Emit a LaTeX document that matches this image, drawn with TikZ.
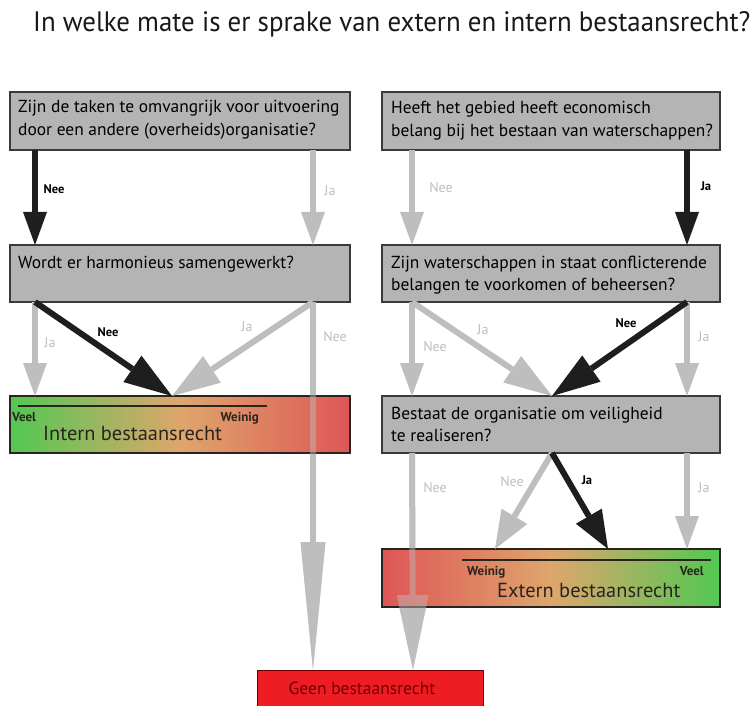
\documentclass[tikz,border=0pt]{standalone}
\usepackage{fontspec}
\setmainfont{PT Sans}
\usetikzlibrary{arrows.meta}
\definecolor{boxgray}{HTML}{B4B4B4}
\definecolor{boxline}{HTML}{3A3A3A}
\definecolor{arrgray}{HTML}{BEBEBE}
\definecolor{arrblack}{HTML}{1E1E1E}
\definecolor{lblgray}{HTML}{BDBDBD}
\definecolor{gGreen}{HTML}{52C852}
\definecolor{gOrange}{HTML}{DEA66C}
\definecolor{gRed}{HTML}{DE5656}
\definecolor{geenred}{HTML}{EE1D23}
\definecolor{geentext}{HTML}{6E0000}
\definecolor{bartext}{HTML}{2A2420}
\tikzset{
  qbox/.style={draw=boxline, line width=1.3pt, fill=boxgray, anchor=north west,
    minimum width=340pt, minimum height=58pt, inner sep=0pt, outer sep=0pt},
  gbox/.style={draw=bartext, line width=1.3pt, anchor=north west,
    minimum width=340pt, minimum height=57pt, inner sep=0pt, outer sep=0pt},
  qtext/.style={anchor=base west, inner sep=0pt,
    font=\fontsize{17.4}{22}\selectfont, text=black},
  vhead/.style={-{Triangle[length=33pt,width=24pt,line width=0pt]}},
  dhead/.style={-{Triangle[length=48pt,width=32pt,line width=0pt]}},
  lhead/.style={-{Triangle[length=38pt,width=30pt,line width=0pt]}},
  garr/.style={draw=arrgray, line width=6pt, color=arrgray},
  barr/.style={draw=arrblack, line width=6pt, color=arrblack},
  lblk/.style={font=\bfseries\fontsize{12.5}{14}\selectfont, text=black, inner sep=0pt},
  lgry/.style={font=\fontsize{14}{16}\selectfont, text=lblgray, inner sep=0pt},
  scl/.style={font=\bfseries\fontsize{13}{14}\selectfont, text=bartext, inner sep=0pt, anchor=base west},
  bigt/.style={font=\fontsize{20.4}{22}\selectfont, text=bartext, inner sep=0pt, anchor=base west},
}
\begin{document}
\begin{tikzpicture}[x=1pt,y=-1pt]
\useasboundingbox (0,0) rectangle (753,706);

% title
\node[anchor=base west, inner sep=0pt, text=black!90] (title) at (33,32)
  {\resizebox{717pt}{20pt}{In welke mate is er sprake van extern en intern bestaansrecht?}};

% question boxes
\node[qbox] (q1) at (10,92) {};
\node[qtext] (t1a) at (18,113) {Zijn de taken te omvangrijk voor uitvoering};
\node[qtext] (t1b) at (18,136) {door een andere (overheids)organisatie?};
\node[qbox, minimum height=57pt] (q2) at (10,245) {};
\node[qtext] (t2) at (18,268) {Wordt er harmonieus samengewerkt?};
\node[qbox, minimum width=338pt] (q3) at (382,92) {};
\node[qtext] (t3a) at (391,114) {Heeft het gebied heeft economisch};
\node[qtext] (t3b) at (391,137) {belang bij het bestaan van waterschappen?};
\node[qbox, minimum width=338pt, minimum height=57pt] (q4) at (382,245) {};
\node[qtext] (t4a) at (391,268) {Zijn waterschappen in staat conflicterende};
\node[qtext] (t4b) at (391,290) {belangen te voorkomen of beheersen?};
\node[qbox, minimum width=338pt, minimum height=57pt] (q5) at (382,396) {};
\node[qtext] (t5a) at (391,419) {Bestaat de organisatie om veiligheid};
\node[qtext] (t5b) at (391,441) {te realiseren?};

% geen box
\node[draw=geentext, line width=1.3pt, fill=geenred, anchor=north west,
  minimum width=226pt, minimum height=45pt, inner sep=0pt] (geen) at (257,670) {};
\node[font=\fontsize{17.5}{18}\selectfont, text=geentext, inner sep=0pt, anchor=base] (tgeen) at (362,694) {Geen bestaansrecht};

% long gray arrows (opaque pass, under the bars)
\draw[garr, -{Triangle[length=128pt,width=25pt,line width=0pt]}] ([xshift=-37pt]q2.south east) -- ([xshift=56pt]geen.north west);
\draw[garr, -{Triangle[length=75pt,width=32pt,line width=0pt]}] ([xshift=30pt]q5.south west) -- ([xshift=156pt]geen.north west);

% gradient bars
\node[gbox, left color=gGreen, right color=gRed, middle color=gOrange] (intern) at (10,396) {};
\node[gbox, minimum width=338pt, minimum height=58pt, left color=gRed, right color=gGreen, middle color=gOrange] (extern) at (382,549) {};

% long gray arrows (translucent pass, over the bars)
\begin{scope}[transparency group, opacity=0.45]
\draw[garr, -{Triangle[length=128pt,width=25pt,line width=0pt]}] ([xshift=-37pt]q2.south east) -- ([xshift=56pt]geen.north west);
\draw[garr, -{Triangle[length=75pt,width=32pt,line width=0pt]}] ([xshift=30pt]q5.south west) -- ([xshift=156pt]geen.north west);
\end{scope}

% bar contents
\draw[line width=1.4pt, bartext] ([shift={(8pt,-10pt)}]intern.north west) coordinate (il1) -- ([shift={(257pt,-10pt)}]intern.north west) coordinate (il2);
\node[scl] (iv) at (12,421) {Veel};
\node[scl, anchor=base east] (iw) at (259,421) {Weinig};
\node[bigt] (it) at (43,440) {Intern bestaansrecht};

\draw[line width=1.4pt, bartext] ([shift={(80pt,-11pt)}]extern.north west) coordinate (el1) -- ([shift={(329pt,-11pt)}]extern.north west) coordinate (el2);
\node[scl] (ew) at (467,575) {Weinig};
\node[scl, anchor=base east] (ev) at (704,575) {Veel};
\node[bigt] (et) at (497,597) {Extern bestaansrecht};

% gray arrows
\draw[garr, vhead] ([xshift=-37pt]q1.south east) -- ([xshift=-37pt]q2.north east);
\draw[garr, vhead] ([xshift=25pt]q2.south west) -- ([xshift=25pt]intern.north west);
\draw[garr, dhead] ([xshift=-37pt]q2.south east) -- ([xshift=162pt]intern.north west);
\draw[garr, vhead] ([xshift=30pt]q3.south west) -- ([xshift=30pt]q4.north west);
\draw[garr, vhead] ([xshift=30pt]q4.south west) -- ([xshift=30pt]q5.north west);
\draw[garr, dhead] ([xshift=30pt]q4.south west) -- ([xshift=170pt]q5.north west);
\draw[garr, vhead] ([xshift=-33pt]q4.south east) -- ([xshift=-33pt]q5.north east);
\draw[garr, lhead] ([xshift=170pt]q5.south west) -- ([xshift=113pt]extern.north west);
\draw[garr, vhead] ([xshift=-33pt]q5.south east) -- ([xshift=-33pt]extern.north east);

% black arrows
\draw[barr, vhead] ([xshift=25pt]q1.south west) -- ([xshift=25pt]q2.north west);
\draw[barr, dhead] ([xshift=25pt]q2.south west) -- ([xshift=162pt]intern.north west);
\draw[barr, vhead] ([xshift=-33pt]q3.south east) -- ([xshift=-33pt]q4.north east);
\draw[barr, dhead] ([xshift=-33pt]q4.south east) -- ([xshift=170pt]q5.north west);
\draw[barr, lhead] ([xshift=170pt]q5.south west) -- ([xshift=226pt]extern.north west);

% labels
\node[lblk] (l1) at (54,189) {Nee};
\node[lgry] (l2) at (330,191) {Ja};
\node[lgry] (l3) at (441,188) {Nee};
\node[lblk] (l4) at (706,186) {Ja};
\node[lblk] (l5) at (108,332) {Nee};
\node[lgry] (l6) at (50,343) {Ja};
\node[lgry] (l7) at (247,327) {Ja};
\node[lgry] (l8) at (335,337) {Nee};
\node[lgry] (l9) at (483,330) {Ja};
\node[lgry] (l10) at (435,347) {Nee};
\node[lblk] (l11) at (626,323) {Nee};
\node[lgry] (l12) at (704,337) {Ja};
\node[lgry] (l13) at (435,488) {Nee};
\node[lgry] (l14) at (512,482) {Nee};
\node[lblk] (l15) at (587,480) {Ja};
\node[lgry] (l16) at (704,488) {Ja};
\end{tikzpicture}
\end{document}
